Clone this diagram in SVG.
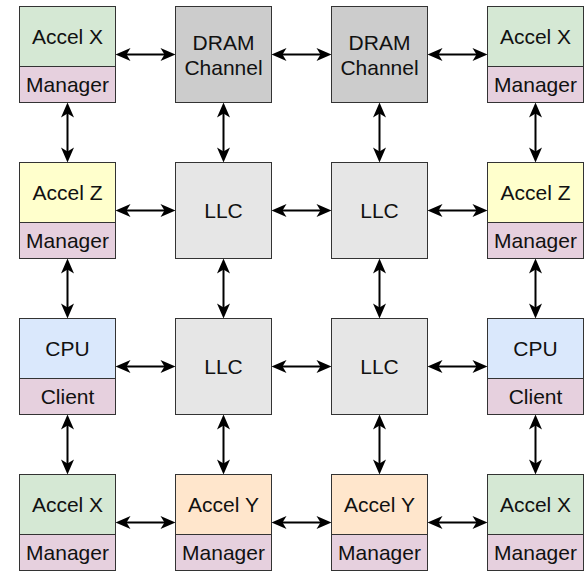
<svg xmlns="http://www.w3.org/2000/svg" width="588" height="572" viewBox="0 0 588 572">
<style>
rect{stroke:#333333;stroke-width:1}
text{font-family:"Liberation Sans",Arial,Helvetica,sans-serif;font-size:21px;fill:#111111;text-anchor:middle}
.gx{fill:#d5e8d4}.mg{fill:#e6d0de}.yz{fill:#ffffcc}.cpu{fill:#dae8fc}.ay{fill:#ffe6cc}.dram{fill:#cccccc}.llc{fill:#e6e6e6}
.c line{stroke:#000000;stroke-width:2;marker-start:url(#ah);marker-end:url(#ah)}
</style>
<defs>
<marker id="ah" markerUnits="userSpaceOnUse" viewBox="-12 -8 18 16" markerWidth="18" markerHeight="16" refX="0" refY="0" orient="auto-start-reverse" overflow="visible">
<path d="M5,0 L-10,-6.5 L-6,0 L-10,6.5 Z" fill="#000000"/>
</marker>
</defs>
<g class="c" id="connectors">
<line x1="120.5" y1="54.5" x2="170.5" y2="54.5"/>
<line x1="276.5" y1="54.5" x2="326.5" y2="54.5"/>
<line x1="432.5" y1="54.5" x2="482.5" y2="54.5"/>
<line x1="120.5" y1="210.5" x2="170.5" y2="210.5"/>
<line x1="276.5" y1="210.5" x2="326.5" y2="210.5"/>
<line x1="432.5" y1="210.5" x2="482.5" y2="210.5"/>
<line x1="120.5" y1="366.5" x2="170.5" y2="366.5"/>
<line x1="276.5" y1="366.5" x2="326.5" y2="366.5"/>
<line x1="432.5" y1="366.5" x2="482.5" y2="366.5"/>
<line x1="120.5" y1="522.5" x2="170.5" y2="522.5"/>
<line x1="276.5" y1="522.5" x2="326.5" y2="522.5"/>
<line x1="432.5" y1="522.5" x2="482.5" y2="522.5"/>
<line x1="67.5" y1="107.5" x2="67.5" y2="157.5"/>
<line x1="67.5" y1="263.5" x2="67.5" y2="313.5"/>
<line x1="67.5" y1="419.5" x2="67.5" y2="469.5"/>
<line x1="223.5" y1="107.5" x2="223.5" y2="157.5"/>
<line x1="223.5" y1="263.5" x2="223.5" y2="313.5"/>
<line x1="223.5" y1="419.5" x2="223.5" y2="469.5"/>
<line x1="379.5" y1="107.5" x2="379.5" y2="157.5"/>
<line x1="379.5" y1="263.5" x2="379.5" y2="313.5"/>
<line x1="379.5" y1="419.5" x2="379.5" y2="469.5"/>
<line x1="535.5" y1="107.5" x2="535.5" y2="157.5"/>
<line x1="535.5" y1="263.5" x2="535.5" y2="313.5"/>
<line x1="535.5" y1="419.5" x2="535.5" y2="469.5"/>
</g>
<g id="accelx-tl"><rect class="gx" x="19.5" y="6.5" width="96" height="60"/><rect class="mg" x="19.5" y="66.5" width="96" height="36"/><text x="67.5" y="44">Accel X</text><text x="67.5" y="91.5">Manager</text></g>
<g id="dram-1"><rect class="dram" x="175.5" y="6.5" width="96" height="96"/><text x="223.5" y="49.5">DRAM</text><text x="223.5" y="75">Channel</text></g>
<g id="dram-2"><rect class="dram" x="331.5" y="6.5" width="96" height="96"/><text x="379.5" y="49.5">DRAM</text><text x="379.5" y="75">Channel</text></g>
<g id="accelx-tr"><rect class="gx" x="487.5" y="6.5" width="96" height="60"/><rect class="mg" x="487.5" y="66.5" width="96" height="36"/><text x="535.5" y="44">Accel X</text><text x="535.5" y="91.5">Manager</text></g>
<g id="accelz-l"><rect class="yz" x="19.5" y="162.5" width="96" height="60"/><rect class="mg" x="19.5" y="222.5" width="96" height="36"/><text x="67.5" y="200">Accel Z</text><text x="67.5" y="247.5">Manager</text></g>
<g id="llc-1"><rect class="llc" x="175.5" y="162.5" width="96" height="96"/><text x="223.5" y="218">LLC</text></g>
<g id="llc-2"><rect class="llc" x="331.5" y="162.5" width="96" height="96"/><text x="379.5" y="218">LLC</text></g>
<g id="accelz-r"><rect class="yz" x="487.5" y="162.5" width="96" height="60"/><rect class="mg" x="487.5" y="222.5" width="96" height="36"/><text x="535.5" y="200">Accel Z</text><text x="535.5" y="247.5">Manager</text></g>
<g id="cpu-l"><rect class="cpu" x="19.5" y="318.5" width="96" height="60"/><rect class="mg" x="19.5" y="378.5" width="96" height="36"/><text x="67.5" y="356">CPU</text><text x="67.5" y="403.5">Client</text></g>
<g id="llc-3"><rect class="llc" x="175.5" y="318.5" width="96" height="96"/><text x="223.5" y="374">LLC</text></g>
<g id="llc-4"><rect class="llc" x="331.5" y="318.5" width="96" height="96"/><text x="379.5" y="374">LLC</text></g>
<g id="cpu-r"><rect class="cpu" x="487.5" y="318.5" width="96" height="60"/><rect class="mg" x="487.5" y="378.5" width="96" height="36"/><text x="535.5" y="356">CPU</text><text x="535.5" y="403.5">Client</text></g>
<g id="accelx-bl"><rect class="gx" x="19.5" y="474.5" width="96" height="60"/><rect class="mg" x="19.5" y="534.5" width="96" height="36"/><text x="67.5" y="512">Accel X</text><text x="67.5" y="559.5">Manager</text></g>
<g id="accely-1"><rect class="ay" x="175.5" y="474.5" width="96" height="60"/><rect class="mg" x="175.5" y="534.5" width="96" height="36"/><text x="223.5" y="512">Accel Y</text><text x="223.5" y="559.5">Manager</text></g>
<g id="accely-2"><rect class="ay" x="331.5" y="474.5" width="96" height="60"/><rect class="mg" x="331.5" y="534.5" width="96" height="36"/><text x="379.5" y="512">Accel Y</text><text x="379.5" y="559.5">Manager</text></g>
<g id="accelx-br"><rect class="gx" x="487.5" y="474.5" width="96" height="60"/><rect class="mg" x="487.5" y="534.5" width="96" height="36"/><text x="535.5" y="512">Accel X</text><text x="535.5" y="559.5">Manager</text></g>
</svg>
